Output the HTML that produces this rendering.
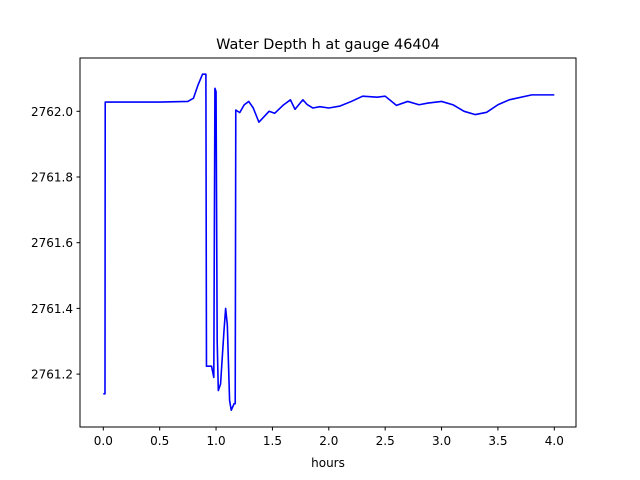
<!DOCTYPE html>
<html><head><meta charset="utf-8"><style>
body{margin:0;background:#fff;}
svg{display:block;font-family:"DejaVu Sans","Liberation Sans",sans-serif;}
</style></head><body>
<svg id="chart" width="640" height="480" xmlns="http://www.w3.org/2000/svg">
<rect width="640" height="480" fill="#fff"/>
<text x="328" y="49" font-size="14.4" text-anchor="middle">Water Depth h at gauge 46404</text>
<text x="328" y="467" font-size="12" text-anchor="middle">hours</text>
<g id="ticks"></g>
<path id="line" fill="none" stroke="#0000ff" stroke-width="1.6" stroke-linejoin="round"/>
<rect x="80" y="58" width="496" height="369" fill="none" stroke="#000" stroke-width="1"/>
</svg>
<script>
const times = [0,0.015,0.017,0.5,0.75,0.8,0.84,0.88,0.91,0.915,0.96,0.98,0.99,1.0,1.01,1.02,1.04,1.07,1.085,1.10,1.12,1.135,1.16,1.17,1.175,1.21,1.25,1.29,1.33,1.38,1.43,1.47,1.52,1.6,1.66,1.70,1.77,1.81,1.86,1.92,2.0,2.1,2.2,2.3,2.43,2.5,2.6,2.7,2.8,2.88,3.0,3.1,3.2,3.3,3.4,3.5,3.6,3.8,4.0];
const depths = [2761.14,2761.14,2762.028,2762.028,2762.03,2762.04,2762.08,2762.113,2762.113,2761.224,2761.224,2761.19,2762.07,2762.06,2761.30,2761.15,2761.17,2761.33,2761.40,2761.35,2761.12,2761.09,2761.11,2761.11,2762.004,2761.996,2762.02,2762.03,2762.01,2761.967,2761.985,2762.0,2761.994,2762.02,2762.035,2762.006,2762.035,2762.02,2762.01,2762.014,2762.01,2762.016,2762.03,2762.046,2762.043,2762.046,2762.018,2762.03,2762.02,2762.025,2762.03,2762.02,2762.0,2761.99,2761.997,2762.02,2762.035,2762.05,2762.05];
const xTicks = [0,0.5,1,1.5,2,2.5,3,3.5,4];
const yTicks = [2761.2,2761.4,2761.6,2761.8,2762.0];
const xScale = t => 103.3 + (t) * 112.75;
const yScale = v => 111.3 - (v - 2762.0) * 328.5;
const NS = "http://www.w3.org/2000/svg";
const g = document.getElementById('ticks');
xTicks.forEach(t => {
  const x = xScale(t);
  const l = document.createElementNS(NS,'line');
  l.setAttribute('x1',x);l.setAttribute('x2',x);l.setAttribute('y1',427);l.setAttribute('y2',430.5);l.setAttribute('stroke','#000');
  
  
  g.appendChild(l);
  const tx = document.createElementNS(NS,'text');
  tx.setAttribute('x',x);tx.setAttribute('y',445);tx.setAttribute('font-size','12');tx.setAttribute('text-anchor','middle');
  tx.textContent = t.toFixed(1);
  
  
  g.appendChild(tx);
});
yTicks.forEach(v => {
  const y = yScale(v);
  const l = document.createElementNS(NS,'line');
  l.setAttribute('x1',76.5);l.setAttribute('x2',80);l.setAttribute('y1',y);l.setAttribute('y2',y);l.setAttribute('stroke','#000');
  
  
  g.appendChild(l);
  const tx = document.createElementNS(NS,'text');
  tx.setAttribute('x',73);tx.setAttribute('y',y+4.5);tx.setAttribute('font-size','12');tx.setAttribute('text-anchor','end');
  tx.textContent = v.toFixed(1);
  
  
  g.appendChild(tx);
});
document.getElementById('line').setAttribute('d', times.map((t,i)=>(i?'L':'M')+xScale(t).toFixed(2)+','+yScale(depths[i]).toFixed(2)).join(''));
</script>
</body></html>
